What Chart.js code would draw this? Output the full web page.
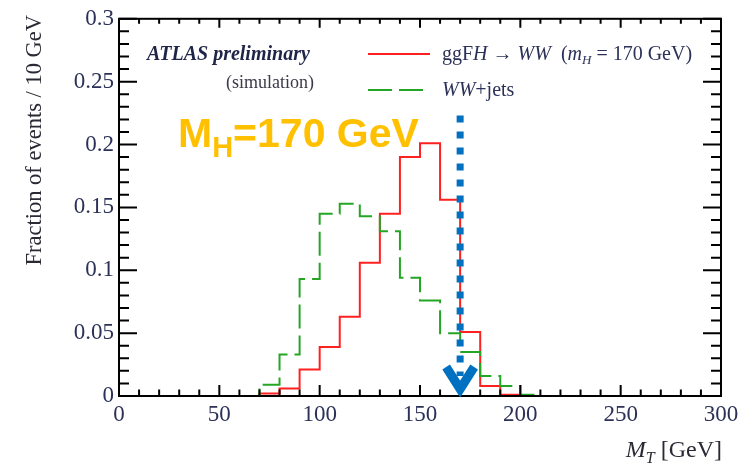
<!DOCTYPE html>
<html>
<head>
<meta charset="utf-8">
<script src="https://cdn.jsdelivr.net/npm/chart.js@4.4.1/dist/chart.umd.min.js"></script>
<style>
  html, body { margin: 0; padding: 0; background: #ffffff; }
  #wrap { width: 750px; height: 469px; }
</style>
</head>
<body>
<div id="wrap"><canvas id="c" width="750" height="469"></canvas></div>
<script>
// Transverse-mass histograms, 10 GeV bins from 0 to 300 GeV
const binLowEdges = [0, 10, 20, 30, 40, 50, 60, 70, 80, 90, 100, 110, 120, 130, 140,
                     150, 160, 170, 180, 190, 200, 210, 220, 230, 240, 250, 260, 270, 280, 290];
const binUpperEdge = 300;

// ggF H -> WW, m_H = 170 GeV
const higgsFraction = [0, 0, 0, 0, 0, 0, 0, 0.002, 0.006, 0.021, 0.039, 0.063, 0.106, 0.145, 0.190,
                       0.201, 0.156, 0.051, 0.008, 0.001, 0, 0, 0, 0, 0, 0, 0, 0, 0, 0];
// WW + jets background
const wwJetsFraction = [0, 0, 0, 0, 0, 0, 0, 0.009, 0.033, 0.093, 0.145, 0.153, 0.143, 0.131, 0.094,
                        0.076, 0.050, 0.035, 0.016, 0.008, 0.001, 0, 0, 0, 0, 0, 0, 0, 0, 0];

const xTickLabels = ['0', '50', '100', '150', '200', '250', '300'];
const yTickLabels = ['0', '0.05', '0.1', '0.15', '0.2', '0.25', '0.3'];

const higgsMass = 170;      // GeV, position of the marker arrow
const markerTop = 0.223;    // top of the dotted marker, in y units

const SERIF = '"Liberation Serif", "Times New Roman", serif';
const SANS = '"Liberation Sans", Arial, sans-serif';
const TEXT_COL = '#2b3157';

function toSteps(values) {
  const pts = binLowEdges.map((x, i) => ({ x: x, y: values[i] }));
  pts.push({ x: binUpperEdge, y: values[values.length - 1] });
  return pts;
}

// draws a run of text pieces with individual styles
function drawRich(ctx, x, y, parts, align) {
  let total = 0;
  parts.forEach(p => { ctx.font = p.font; total += ctx.measureText(p.t).width; });
  let cx = align === 'right' ? x - total : x;
  ctx.textAlign = 'left';
  ctx.textBaseline = 'alphabetic';
  parts.forEach(p => {
    ctx.font = p.font;
    ctx.fillStyle = p.color || ctx.fillStyle;
    ctx.fillText(p.t, cx, y + (p.dy || 0));
    cx += ctx.measureText(p.t).width;
  });
}

const framePlugin = {
  id: 'frameAndLabels',
  afterDatasetsDraw(chart) {
    const { ctx, chartArea: a, scales } = chart;
    const xs = scales.x, ys = scales.y;
    ctx.save();
    // frame
    ctx.strokeStyle = '#000';
    ctx.lineWidth = 2;
    ctx.strokeRect(a.left, a.top, a.right - a.left, a.bottom - a.top);
    // x ticks (bottom + top), minor every 10, major every 50
    for (let v = 0; v <= 300; v += 10) {
      const px = xs.getPixelForValue(v);
      const major = v % 50 === 0;
      ctx.beginPath();
      ctx.moveTo(px, a.bottom); ctx.lineTo(px, a.bottom - (major ? 11 : 6.5));
      ctx.moveTo(px, a.top); ctx.lineTo(px, a.top + (major ? 9 : 5));
      ctx.stroke();
    }
    // y ticks (left + right), minor every 0.01, major every 0.05
    for (let k = 0; k <= 30; k++) {
      const py = ys.getPixelForValue(k / 100);
      const major = k % 5 === 0;
      ctx.beginPath();
      ctx.moveTo(a.left, py); ctx.lineTo(a.left + (major ? 18 : 10), py);
      ctx.moveTo(a.right, py); ctx.lineTo(a.right - (major ? 18 : 10), py);
      ctx.stroke();
    }

    // dotted marker at the Higgs mass with a chevron arrow head
    const mx = xs.getPixelForValue(higgsMass);
    const y0 = ys.getPixelForValue(0);
    ctx.strokeStyle = '#0070c0';
    ctx.lineWidth = 7;
    ctx.setLineDash([7, 9]);
    ctx.beginPath();
    ctx.moveTo(mx, ys.getPixelForValue(markerTop));
    ctx.lineTo(mx, y0 - 20);
    ctx.stroke();
    ctx.setLineDash([]);
    ctx.lineWidth = 9;
    ctx.lineJoin = 'miter';
    ctx.beginPath();
    ctx.moveTo(mx - 14, y0 - 29);
    ctx.lineTo(mx, y0 - 7);
    ctx.lineTo(mx + 14, y0 - 29);
    ctx.stroke();
    ctx.restore();
  },
  afterDraw(chart) {
    const { ctx, data } = chart;
    ctx.save();
    // y axis title
    ctx.save();
    ctx.translate(35, 15);
    ctx.rotate(-Math.PI / 2);
    ctx.font = '22.5px ' + SERIF;
    ctx.fillStyle = '#2a2a35';
    ctx.textAlign = 'right';
    ctx.textBaseline = 'middle';
    ctx.fillText('Fraction of events / 10 GeV', 0, 0);
    ctx.restore();

    // x axis title
    ctx.fillStyle = '#2a2a35';
    drawRich(ctx, 722, 457, [
      { t: 'M', font: 'italic 24px ' + SERIF },
      { t: 'T', font: 'italic 16px ' + SERIF, dy: 6 },
      { t: ' [GeV]', font: '24px ' + SERIF }
    ], 'right');

    // experiment label
    ctx.fillStyle = '#1f2548';
    drawRich(ctx, 147, 60, [{ t: 'ATLAS preliminary', font: 'bold italic 20px ' + SERIF }]);
    ctx.fillStyle = '#3a3a48';
    drawRich(ctx, 226, 88, [{ t: '(simulation)', font: '18px ' + SERIF }]);

    // legend
    const ds = data.datasets;
    const legendRows = [
      { ds: ds[1], y: 54, textY: 60, parts: [
        { t: 'ggF', font: '20px ' + SERIF },
        { t: 'H', font: 'italic 20px ' + SERIF },
        { t: ' \u2192 ', font: '20px ' + SERIF },
        { t: 'WW', font: 'italic 20px ' + SERIF },
        { t: '  (', font: '20px ' + SERIF },
        { t: 'm', font: 'italic 20px ' + SERIF },
        { t: 'H', font: 'italic 13px ' + SERIF, dy: 4 },
        { t: ' = 170 GeV)', font: '20px ' + SERIF }
      ]},
      { ds: ds[0], y: 90, textY: 96, parts: [
        { t: 'WW', font: 'italic 20px ' + SERIF },
        { t: '+jets', font: '20px ' + SERIF }
      ]}
    ];
    legendRows.forEach(r => {
      ctx.strokeStyle = r.ds.borderColor;
      ctx.lineWidth = 2;
      ctx.setLineDash(r.ds.borderDash || []);
      ctx.beginPath();
      ctx.moveTo(368, r.y); ctx.lineTo(430, r.y);
      ctx.stroke();
      ctx.setLineDash([]);
      ctx.fillStyle = TEXT_COL;
      drawRich(ctx, 442, r.textY, r.parts);
    });

    // highlighted mass annotation
    ctx.fillStyle = '#ffc000';
    drawRich(ctx, 178, 147, [
      { t: 'M', font: 'bold 41px ' + SANS },
      { t: 'H', font: 'bold 29px ' + SANS, dy: 10 },
      { t: '=170 GeV', font: 'bold 41px ' + SANS }
    ]);
    ctx.restore();
  }
};

new Chart(document.getElementById('c'), {
  type: 'line',
  data: {
    datasets: [
      {
        label: 'WW+jets',
        data: toSteps(wwJetsFraction),
        borderColor: '#24a524',
        borderWidth: 2,
        borderDash: [24, 7],
        stepped: true,
        pointRadius: 0,
        fill: false
      },
      {
        label: 'ggF H \u2192 WW (m_H = 170 GeV)',
        data: toSteps(higgsFraction),
        borderColor: '#ff2020',
        borderWidth: 2,
        stepped: true,
        pointRadius: 0,
        fill: false
      }
    ]
  },
  options: {
    responsive: false,
    animation: false,
    events: [],
    layout: { padding: { top: 12, right: 29, left: 0, bottom: 0 } },
    plugins: { legend: { display: false }, tooltip: { enabled: false }, title: { display: false } },
    scales: {
      x: {
        type: 'linear', min: 0, max: 300,
        grid: { display: false, drawTicks: false }, border: { display: false },
        ticks: {
          stepSize: 50, autoSkip: false, maxRotation: 0, padding: 5,
          font: { family: SERIF, size: 23 }, color: TEXT_COL,
          callback: (v, i) => xTickLabels[i]
        },
        afterFit: s => { s.height = 73; }
      },
      y: {
        type: 'linear', min: 0, max: 0.3,
        grid: { display: false, drawTicks: false }, border: { display: false },
        ticks: {
          stepSize: 0.05, autoSkip: false, padding: 5,
          font: { family: SERIF, size: 23 }, color: TEXT_COL,
          callback: (v, i) => yTickLabels[i]
        },
        afterFit: s => { s.width = 119; }
      }
    }
  },
  plugins: [framePlugin]
});
</script>
</body>
</html>
